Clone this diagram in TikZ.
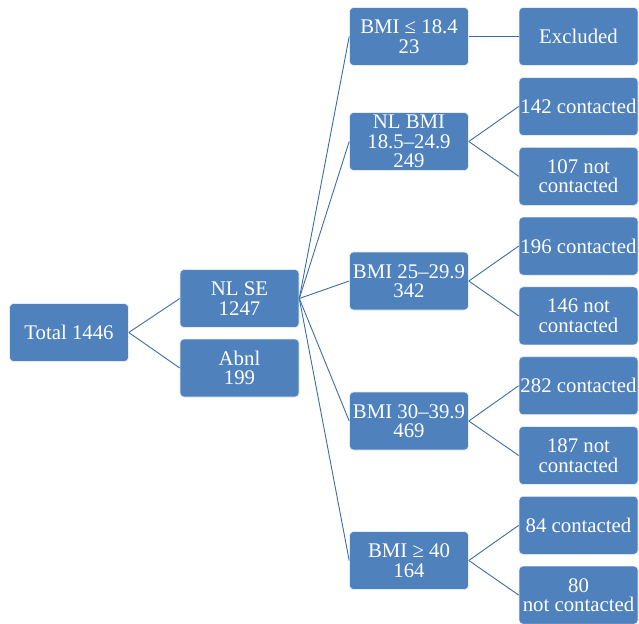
\documentclass[tikz,border=0pt]{standalone}
\usepackage{fontspec}
\setmainfont{Liberation Serif}
\definecolor{boxblue}{RGB}{79,129,189}
\definecolor{lineblue}{RGB}{62,108,166}
\begin{document}
\begin{tikzpicture}[x=1pt,y=-1pt,
  box/.style={fill=boxblue, draw=white!85!boxblue, line width=0.6pt, rounded corners=4pt,
    minimum width=119pt, minimum height=58pt, inner sep=0pt, align=center, text=white,
    font=\fontsize{20.8}{19.5}\selectfont},
  conn/.style={draw=lineblue, line width=0.9pt}]
\useasboundingbox (0,0) rectangle (639,623);
\node[box] (total) at (69,332.5) {Total 1446};
\node[box] (nlse) at (239.5,298.5) {NL SE\\1247};
\node[box] (abnl) at (239.5,368) {Abnl\\199};
\node[box] (b1) at (409,36.5) {BMI ≤ 18.4\\23};
\node[box] (b2) at (409,141.5) {NL BMI\\18.5–24.9\\249};
\node[box] (b3) at (409,281) {BMI 25–29.9\\342};
\node[box] (b4) at (409,421) {BMI 30–39.9\\469};
\node[box] (b5) at (409,560.5) {BMI ≥ 40\\164};
\node[box] (ex) at (578.5,36.5) {Excluded};
\node[box] (c1) at (578.5,106.5) {142 contacted};
\node[box] (n1) at (578.5,176.3) {107 not\\contacted};
\node[box] (c2) at (578.5,246.1) {196 contacted};
\node[box] (n2) at (578.5,315.9) {146 not\\contacted};
\node[box] (c3) at (578.5,385.7) {282 contacted};
\node[box] (n3) at (578.5,455.5) {187 not\\contacted};
\node[box] (c4) at (578.5,525.3) {84 contacted};
\node[box] (n4) at (578.5,595.1) {80\\not contacted};
\draw[conn] (total.east) -- (nlse.west);
\draw[conn] (total.east) -- (abnl.west);
\foreach \b in {b1,b2,b3,b4,b5} \draw[conn] (nlse.east) -- (\b.west);
\draw[conn] (b1.east) -- (ex.west);
\draw[conn] (b2.east) -- (c1.west);
\draw[conn] (b2.east) -- (n1.west);
\draw[conn] (b3.east) -- (c2.west);
\draw[conn] (b3.east) -- (n2.west);
\draw[conn] (b4.east) -- (c3.west);
\draw[conn] (b4.east) -- (n3.west);
\draw[conn] (b5.east) -- (c4.west);
\draw[conn] (b5.east) -- (n4.west);
\end{tikzpicture}
\end{document}
